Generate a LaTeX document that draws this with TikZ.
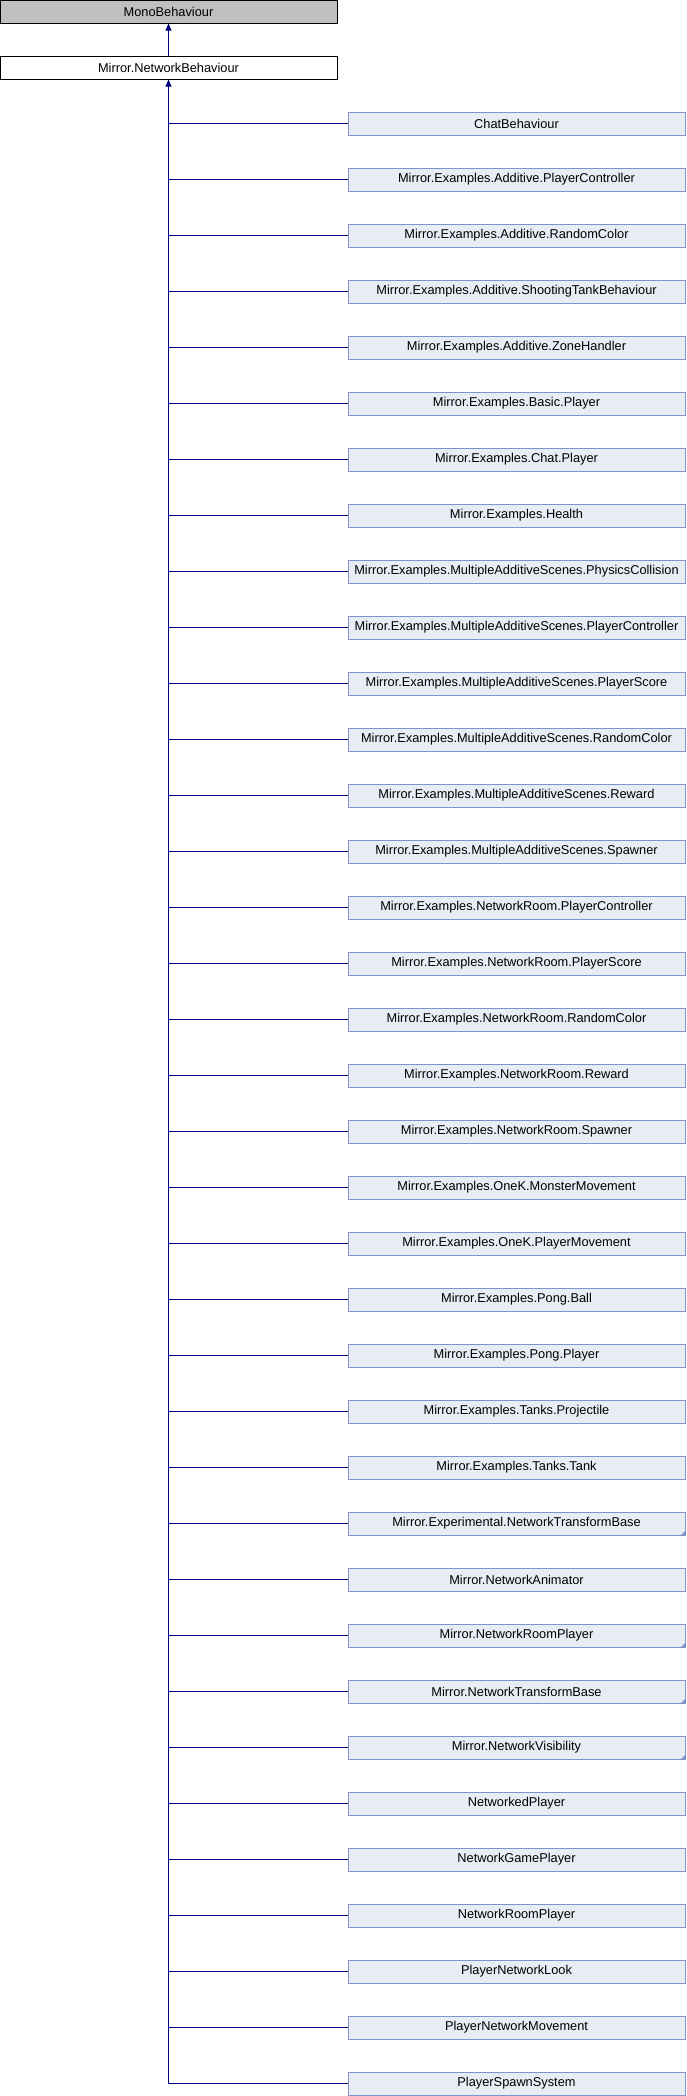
\documentclass[tikz,border=0pt]{standalone}
\usepackage{fontspec}
\setmainfont{Liberation Sans}
\usetikzlibrary{arrows.meta}
\definecolor{childfill}{HTML}{E8ECF5}
\definecolor{childdraw}{HTML}{7F94C8}
\definecolor{linkcol}{HTML}{000080}
\definecolor{monofill}{HTML}{BFBFBF}
\tikzset{
  basebox/.style={rectangle, minimum width=337pt, minimum height=23pt, inner sep=0pt, line width=1pt, font=\fontsize{12.8}{14}\selectfont, anchor=center},
  monobox/.style={basebox, draw=black, fill=monofill},
  netbox/.style={basebox, draw=black, fill=white},
  childbox/.style={basebox, draw=childdraw, fill=childfill},
  link/.style={draw=linkcol, line width=1pt},
  inherit/.style={link, -{Triangle[width=6pt,length=7pt]}},
  moretri/.style={fill=childdraw, draw=none}
}
\begin{document}
\begin{tikzpicture}[x=1pt,y=-1pt]
\useasboundingbox (0,0) rectangle (686,2096);
\node[monobox] (mono) at (168.5,11.5) {MonoBehaviour};
\node[netbox] (net) at (168.5,67.5) {Mirror.NetworkBehaviour};
\draw[inherit] (net.north) -- (mono.south);
\foreach \t [count=\i] in {
 ChatBehaviour,
 Mirror.Examples.Additive.PlayerController,
 Mirror.Examples.Additive.RandomColor,
 Mirror.Examples.Additive.ShootingTankBehaviour,
 Mirror.Examples.Additive.ZoneHandler,
 Mirror.Examples.Basic.Player,
 Mirror.Examples.Chat.Player,
 Mirror.Examples.Health,
 Mirror.Examples.MultipleAdditiveScenes.PhysicsCollision,
 Mirror.Examples.MultipleAdditiveScenes.PlayerController,
 Mirror.Examples.MultipleAdditiveScenes.PlayerScore,
 Mirror.Examples.MultipleAdditiveScenes.RandomColor,
 Mirror.Examples.MultipleAdditiveScenes.Reward,
 Mirror.Examples.MultipleAdditiveScenes.Spawner,
 Mirror.Examples.NetworkRoom.PlayerController,
 Mirror.Examples.NetworkRoom.PlayerScore,
 Mirror.Examples.NetworkRoom.RandomColor,
 Mirror.Examples.NetworkRoom.Reward,
 Mirror.Examples.NetworkRoom.Spawner,
 Mirror.Examples.OneK.MonsterMovement,
 Mirror.Examples.OneK.PlayerMovement,
 Mirror.Examples.Pong.Ball,
 Mirror.Examples.Pong.Player,
 Mirror.Examples.Tanks.Projectile,
 Mirror.Examples.Tanks.Tank,
 Mirror.Experimental.NetworkTransformBase,
 Mirror.NetworkAnimator,
 Mirror.NetworkRoomPlayer,
 Mirror.NetworkTransformBase,
 Mirror.NetworkVisibility,
 NetworkedPlayer,
 NetworkGamePlayer,
 NetworkRoomPlayer,
 PlayerNetworkLook,
 PlayerNetworkMovement,
 PlayerSpawnSystem} {
  \node[childbox] (c\i) at (516.5,{123.5+56*(\i-1)}) {\t};
  \draw[link] (net.south |- c\i.west) -- (c\i.west);
}
\foreach \i in {26,28,29,30} {
  \fill[moretri] (c\i.south east) -- ++(-5,0) -- ++(5,-5) -- cycle;
}
\draw[inherit] (net.south |- c36.west) -- (net.south);
\end{tikzpicture}
\end{document}
